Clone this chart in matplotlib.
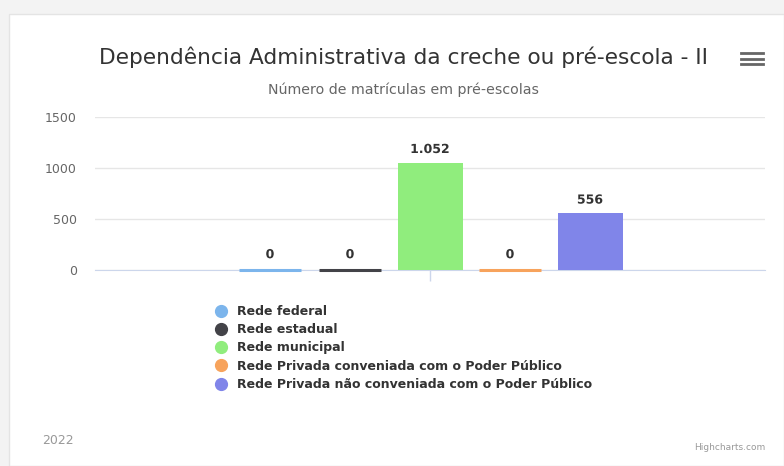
import matplotlib
matplotlib.use("Agg")
import matplotlib.pyplot as plt
from matplotlib.patches import Rectangle
from matplotlib.lines import Line2D
import matplotlib.patheffects as pe

W, H = 784, 466

title = "Dependência Administrativa da creche ou pré-escola - II"
subtitle = "Número de matrículas em pré-escolas"
year = "2022"
series = ["Rede federal", "Rede estadual", "Rede municipal",
          "Rede Privada conveniada com o Poder Público",
          "Rede Privada não conveniada com o Poder Público"]
values = [0, 0, 1052, 0, 556]
labels = ["0", "0", "1.052", "0", "556"]
colors = ["#7cb5ec", "#434348", "#90ed7d", "#f7a35c", "#8085e9"]
yticks = [0, 500, 1000, 1500]


def fx(px):
    return px / W


def fy(py):
    return 1 - py / H


fig = plt.figure(figsize=(W / 100, H / 100), dpi=100)
fig.patch.set_facecolor("#f3f3f3")
# white card
card = Rectangle((fx(9), 0), 1 - fx(9), fy(14), transform=fig.transFigure,
                 facecolor="white", edgecolor="#e4e4e4", linewidth=1, zorder=-10)
fig.patches.append(card)

ax = fig.add_axes([fx(95), fy(270), fx(765) - fx(95), fy(117) - fy(270)])
ax.set_facecolor("none")

pitch = 80 / 670
width = 65 / 670
for i, (v, c, lab) in enumerate(zip(values, colors, labels)):
    x = (i - 2) * pitch
    # zero values still show as a thin strip, like highcharts does
    lw = 2.2 if v == 0 else 0
    ax.bar(x, v, width=width - 3 / 670 if v == 0 else width, color=c, edgecolor=c,
           linewidth=lw, joinstyle="miter", zorder=3, clip_on=False)
    t = ax.annotate(lab, (x, v), xytext=(0, 9.5 if v else 11), textcoords="offset points",
                    ha="center", va="center", fontsize=9, fontweight="bold",
                    color="#333333", zorder=4)
    t.set_path_effects([pe.withStroke(linewidth=2, foreground="white")])

ax.set_xlim(-0.5, 0.5)
ax.set_ylim(0, 1500)
ax.set_yticks(yticks)
ax.set_yticklabels([str(t) for t in yticks])
ax.yaxis.grid(True, color="#e6e6e6", linewidth=1)
ax.set_axisbelow(True)
ax.tick_params(axis="y", length=0, pad=13, labelsize=9, labelcolor="#666666")
ax.set_xticks([0])
ax.set_xticklabels([""])
ax.tick_params(axis="x", length=8, color="#ccd6eb", width=1)
for s in ["top", "right", "left"]:
    ax.spines[s].set_visible(False)
ax.spines["bottom"].set_color("#ccd6eb")

fig.text(fx(404), fy(57), title, ha="center", va="center", fontsize=15.6, color="#333333")
fig.text(fx(404), fy(90), subtitle, ha="center", va="center", fontsize=10.2, color="#666666")

# menu icon
for yy in (53, 58.5, 64):
    fig.lines.append(Line2D([fx(741), fx(763)], [fy(yy), fy(yy)], transform=fig.transFigure,
                            color="#666666", linewidth=2))

handles = [Line2D([], [], marker="o", linestyle="none", markersize=8.5,
                  markerfacecolor=c, markeredgecolor=c) for c in colors]
leg = fig.legend(handles, series, loc="upper left", bbox_to_anchor=(fx(216), fy(305)),
                 frameon=False, handlelength=0.8, handletextpad=0.9, labelspacing=0.42,
                 borderpad=0, borderaxespad=0, prop={"size": 9, "weight": "bold"})
for t in leg.get_texts():
    t.set_color("#333333")

fig.text(fx(42), fy(441), year, ha="left", va="center", fontsize=9, color="#999999")
fig.text(fx(765), fy(447), "Highcharts.com", ha="right", va="center", fontsize=6.5, color="#999999")

fig.savefig("out.png", dpi=100, facecolor=fig.get_facecolor())
